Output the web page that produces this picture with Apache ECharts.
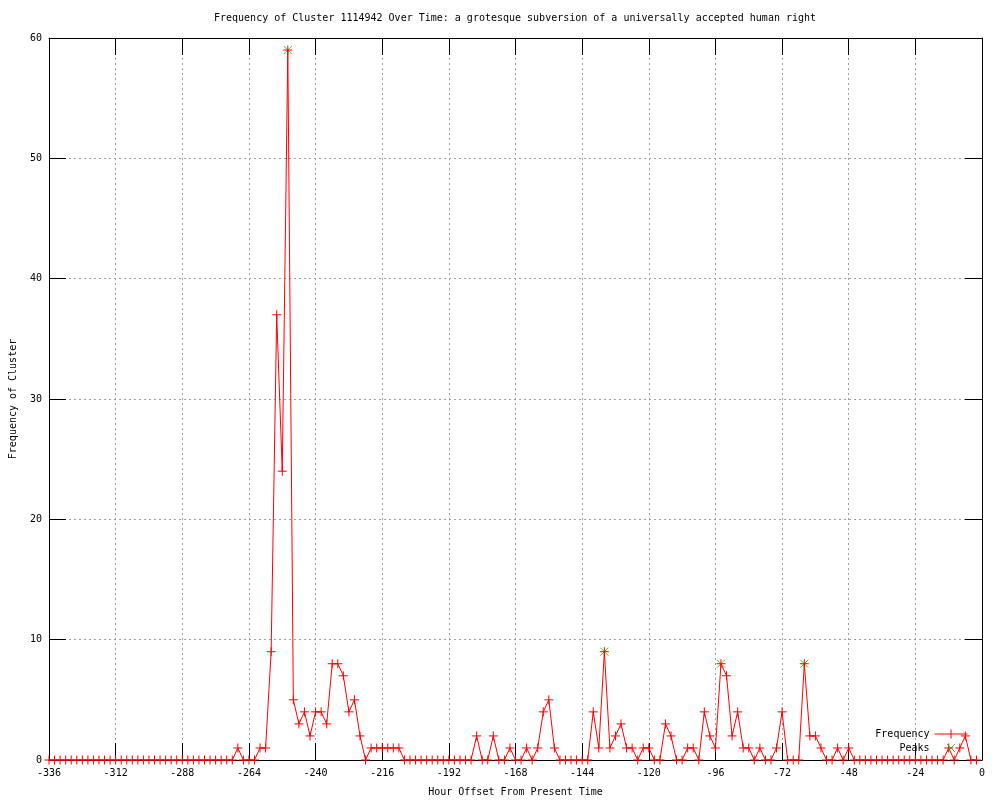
<!DOCTYPE html>
<html>
<head>
<meta charset="utf-8">
<script src="https://cdn.jsdelivr.net/npm/echarts@6/dist/echarts.min.js"></script>
<style>
  html, body { margin: 0; padding: 0; background: #ffffff; }
  #chart { width: 1000px; height: 800px; }
</style>
</head>
<body>
<div id="chart"></div>
<script>
const chartTitle = 'Frequency of Cluster 1114942 Over Time: a grotesque subversion of a universally accepted human right';
const xAxisName = 'Hour Offset From Present Time';
const yAxisName = 'Frequency of Cluster';

// Samples every 2 hours, starting at -336 h
const startHour = -336;
const stepHours = 2;
const frequency = [
  0,0,0,0,0,0,0,0,0,0,0,0,      // -336 .. -314
  0,0,0,0,0,0,0,0,0,0,0,0,      // -312 .. -290
  0,0,0,0,0,0,0,0,0,0,1,0,      // -288 .. -266
  0,0,1,1,9,37,24,59,5,3,4,2,   // -264 .. -242
  4,4,3,8,8,7,4,5,2,0,1,1,      // -240 .. -218
  1,1,1,1,0,0,0,0,0,0,0,0,      // -216 .. -194
  0,0,0,0,0,2,0,0,2,0,0,1,      // -192 .. -170
  0,0,1,0,1,4,5,1,0,0,0,0,      // -168 .. -146
  0,0,4,1,9,1,2,3,1,1,0,1,      // -144 .. -122
  1,0,0,3,2,0,0,1,1,0,4,2,      // -120 .. -98
  1,8,7,2,4,1,1,0,1,0,0,1,      // -96 .. -74
  4,0,0,0,8,2,2,1,0,0,1,0,      // -72 .. -50
  1,0,0,0,0,0,0,0,0,0,0,0,      // -48 .. -26
  0,0,0,0,0,0,1,0,1,2,0,0       // -24 .. -2
];
const peakHours = [-250, -136, -94, -64];
const peakValues = [59, 9, 8, 8];

const xMin = -336, xMax = 0, xStep = 24;
const yMin = 0, yMax = 60, yStep = 10;

const freqData = frequency.map((v, i) => [startHour + i * stepHours, v]);
const peakData = peakHours.map((h, i) => [h, peakValues[i]]);

const FONT = 'DejaVu Sans Mono';
const FS = 10;
const plusPath = 'path://M0,4.5L9,4.5M4.5,0L4.5,9';
const xPath = 'path://M0,0L8,8M8,0L0,8';

const chart = echarts.init(document.getElementById('chart'), null, { renderer: 'canvas' });

const tickStyle = { show: true, inside: true, length: 17, lineStyle: { color: '#000', width: 1 } };
const axisLineStyle = { show: true, onZero: false, lineStyle: { color: '#000', width: 1 } };
const gridLine = { show: true, lineStyle: { color: '#a0a0a0', width: 1, type: [2, 3] } };

chart.setOption({
  animation: false,
  backgroundColor: '#ffffff',
  title: {
    text: chartTitle,
    left: 214,
    top: 13,
    padding: 0,
    textStyle: { fontFamily: FONT, fontSize: FS, fontWeight: 'normal', color: '#000' }
  },
  grid: { left: 49, right: 18, top: 38, bottom: 40, containLabel: false, outerBoundsMode: 'none' },
  legend: {
    orient: 'vertical',
    right: 30,
    top: 727,
    padding: 0,
    align: 'right',
    itemWidth: 33,
    itemHeight: 9,
    itemGap: 0,
    textStyle: { fontFamily: FONT, fontSize: FS, color: '#000', lineHeight: 12 },
    data: [
      { name: 'Frequency', icon: 'path://M0,4.5L33,4.5M16.5,0L16.5,9',
        itemStyle: { color: 'none', borderColor: '#ff0000', borderWidth: 1 } },
      { name: 'Peaks', icon: 'path://M0,0M12.5,0.5L20.5,8.5M20.5,0.5L12.5,8.5M33,9',
        itemStyle: { color: 'none', borderColor: '#00c000', borderWidth: 1 } }
    ]
  },
  xAxis: [
    {
      type: 'value', min: xMin, max: xMax, interval: xStep, position: 'bottom',
      name: xAxisName, nameLocation: 'middle', nameGap: 27,
      nameTextStyle: { fontFamily: FONT, fontSize: FS, color: '#000' },
      axisLine: axisLineStyle, axisTick: tickStyle, splitLine: gridLine,
      axisLabel: { fontFamily: FONT, fontSize: FS, color: '#000', margin: 8 }
    },
    {
      type: 'value', min: xMin, max: xMax, interval: xStep, position: 'top',
      axisLine: axisLineStyle, axisTick: tickStyle, splitLine: { show: false },
      axisLabel: { show: false }
    }
  ],
  yAxis: [
    {
      type: 'value', min: yMin, max: yMax, interval: yStep, position: 'left',
      name: yAxisName, nameLocation: 'middle', nameGap: 31,
      nameTextStyle: { fontFamily: FONT, fontSize: FS, color: '#000' },
      axisLine: axisLineStyle, axisTick: tickStyle, splitLine: gridLine,
      axisLabel: { fontFamily: FONT, fontSize: FS, color: '#000', margin: 7 }
    },
    {
      type: 'value', min: yMin, max: yMax, interval: yStep, position: 'right',
      axisLine: axisLineStyle, axisTick: tickStyle, splitLine: { show: false },
      axisLabel: { show: false }
    }
  ],
  series: [
    {
      name: 'Peaks', type: 'scatter', data: peakData,
      symbol: xPath, symbolSize: 8,
      itemStyle: { color: 'none', borderColor: '#00c000', borderWidth: 1 },
      z: 2, silent: true
    },
    {
      name: 'Frequency', type: 'line', data: freqData,
      symbol: plusPath, symbolSize: 9, showAllSymbol: true,
      lineStyle: { color: '#ff0000', width: 1 },
      itemStyle: { color: 'none', borderColor: '#ff0000', borderWidth: 1 },
      z: 3, silent: true
    }
  ]
});
</script>
</body>
</html>
